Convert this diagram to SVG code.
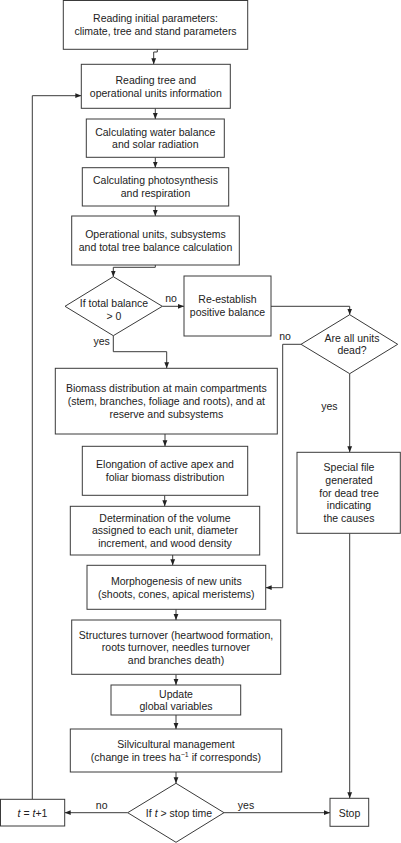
<svg xmlns="http://www.w3.org/2000/svg" width="401" height="843" viewBox="0 0 401 843">
<defs>
<style>
.b{fill:#fff;stroke:#3a3a3a;stroke-width:1}
.t{font-family:"Liberation Sans",Arial,sans-serif;font-size:10.5px;fill:#222;text-anchor:middle}
.l{font-family:"Liberation Sans",Arial,sans-serif;font-size:10.5px;fill:#222;text-anchor:middle}
.c{fill:none;stroke:#3a3a3a;stroke-width:1}
</style>
<marker id="ah" markerUnits="userSpaceOnUse" markerWidth="6" markerHeight="6" viewBox="0 0 6 6" refX="6" refY="3" orient="auto">
<path d="M0,0.6 L6,3 L0,5.4 Z" fill="#222"/>
</marker>
</defs>
<rect width="401" height="843" fill="#fff"/>
<g id="connectors">
<path class="c" d="M157.3,49.3 V52 H153.7 V64.3" marker-end="url(#ah)"/>
<path class="c" d="M155.3,108.3 V119" marker-end="url(#ah)"/>
<path class="c" d="M155.3,157.3 V167.7" marker-end="url(#ah)"/>
<path class="c" d="M155.3,206 V216" marker-end="url(#ah)"/>
<path class="c" d="M155.3,265 V267.3 H113.3 V276.7" marker-end="url(#ah)"/>
<path class="c" d="M162.3,306.3 H184" marker-end="url(#ah)"/>
<path class="c" d="M271,306.3 H349.7 V314.7" marker-end="url(#ah)"/>
<path class="c" d="M301,344.3 H282.7 V587.7 H265.7" marker-end="url(#ah)"/>
<path class="c" d="M349.7,373.7 V452.3" marker-end="url(#ah)"/>
<path class="c" d="M113.3,335.7 V351.7 H166.7 V368.3" marker-end="url(#ah)"/>
<path class="c" d="M165,434 V446.3" marker-end="url(#ah)"/>
<path class="c" d="M164.7,495.3 V506.3" marker-end="url(#ah)"/>
<path class="c" d="M172.7,555 V565.3" marker-end="url(#ah)"/>
<path class="c" d="M176,609.3 V620" marker-end="url(#ah)"/>
<path class="c" d="M176,674.3 V685" marker-end="url(#ah)"/>
<path class="c" d="M176,715 V729" marker-end="url(#ah)"/>
<path class="c" d="M176,772 V783.3" marker-end="url(#ah)"/>
<path class="c" d="M127.7,812.7 H64.7" marker-end="url(#ah)"/>
<path class="c" d="M224,812.7 H330" marker-end="url(#ah)"/>
<path class="c" d="M32.3,799.3 V95.7 H81.3" marker-end="url(#ah)"/>
<path class="c" d="M349.7,533.3 V798.3" marker-end="url(#ah)"/>
<text class="l" x="171" y="301.5">no</text>
<text class="l" x="285" y="340">no</text>
<text class="l" x="329.3" y="410">yes</text>
<text class="l" x="101.7" y="344.5">yes</text>
<text class="l" x="101.7" y="808.5">no</text>
<text class="l" x="246" y="808.5">yes</text>
</g>
<g id="n1">
<rect class="b" x="63.3" y="0.5" width="184.4" height="48.8"/>
<text class="t" x="155.5" y="22">Reading initial parameters:</text>
<text class="t" x="155.5" y="35">climate, tree and stand parameters</text>
</g>
<g id="n2">
<rect class="b" x="81.3" y="64.3" width="149" height="44"/>
<text class="t" x="155.8" y="84">Reading tree and</text>
<text class="t" x="155.8" y="97">operational units information</text>
</g>
<g id="n3">
<rect class="b" x="86.3" y="119" width="138" height="38.3"/>
<text class="t" x="155.3" y="135.5">Calculating water balance</text>
<text class="t" x="155.3" y="148">and solar radiation</text>
</g>
<g id="n4">
<rect class="b" x="82.3" y="167.7" width="146.4" height="38.3"/>
<text class="t" x="155.5" y="184">Calculating photosynthesis</text>
<text class="t" x="155.5" y="197">and respiration</text>
</g>
<g id="n5">
<rect class="b" x="71.7" y="216" width="167.6" height="49"/>
<text class="t" x="155.5" y="238">Operational units, subsystems</text>
<text class="t" x="155.5" y="251">and total tree balance calculation</text>
</g>
<g id="d1">
<polygon class="b" points="113.3,276.7 162.3,306.3 113.3,335.7 65,306.3"/>
<text class="t" x="114" y="307">If total balance</text>
<text class="t" x="114" y="320">&gt; 0</text>
</g>
<g id="n6">
<rect class="b" x="184" y="276" width="87" height="60"/>
<text class="t" x="227.5" y="303">Re-establish</text>
<text class="t" x="227.5" y="316">positive balance</text>
</g>
<g id="d2">
<polygon class="b" points="349.7,314.7 397.7,344.3 349.7,373.7 301,344.3"/>
<text class="t" x="352" y="342">Are all units</text>
<text class="t" x="352" y="354">dead?</text>
</g>
<g id="n7">
<rect class="b" x="55.3" y="368.3" width="222" height="65.7"/>
<text class="t" x="166.3" y="392">Biomass distribution at main compartments</text>
<text class="t" x="166.3" y="405">(stem, branches, foliage and roots), and at</text>
<text class="t" x="166.3" y="417.5">reserve and subsystems</text>
</g>
<g id="n8">
<rect class="b" x="82.3" y="446.3" width="165.4" height="49"/>
<text class="t" x="165" y="468">Elongation of active apex and</text>
<text class="t" x="165" y="481">foliar biomass distribution</text>
</g>
<g id="n9">
<rect class="b" x="70.3" y="506.3" width="189.4" height="48.7"/>
<text class="t" x="165" y="521.5">Determination of the volume</text>
<text class="t" x="165" y="534">assigned to each unit, diameter</text>
<text class="t" x="165" y="546.7">increment, and wood density</text>
</g>
<g id="n10">
<rect class="b" x="87" y="565.3" width="178.7" height="44"/>
<text class="t" x="176.3" y="585">Morphogenesis of new units</text>
<text class="t" x="176.3" y="597.5">(shoots, cones, apical meristems)</text>
</g>
<g id="n11">
<rect class="b" x="71.7" y="620" width="209" height="54.3"/>
<text class="t" x="176" y="638.5">Structures turnover (heartwood formation,</text>
<text class="t" x="176" y="651">roots turnover, needles turnover</text>
<text class="t" x="176" y="663.7">and branches death)</text>
</g>
<g id="n12">
<rect class="b" x="111" y="685" width="129.7" height="30"/>
<text class="t" x="176" y="697.5">Update</text>
<text class="t" x="176" y="710">global variables</text>
</g>
<g id="n13">
<rect class="b" x="70.3" y="729" width="211.4" height="43"/>
<text class="t" x="176" y="748">Silvicultural management</text>
<text class="t" x="176" y="761">(change in trees ha<tspan font-size="7" dy="-4">−1</tspan><tspan dy="4"> if corresponds)</tspan></text>
</g>
<g id="d3">
<polygon class="b" points="176,783.3 224,812.7 176,842.3 127.7,812.7"/>
<text class="t" x="179" y="816.5">If <tspan font-style="italic">t</tspan> &gt; stop time</text>
</g>
<g id="n14">
<rect class="b" x="0.5" y="799.3" width="64.2" height="26.7"/>
<text class="t" x="32.5" y="816.5"><tspan font-style="italic">t</tspan> = <tspan font-style="italic">t</tspan>+1</text>
</g>
<g id="n15">
<rect class="b" x="330" y="798.3" width="38.7" height="28"/>
<text class="t" x="349.5" y="816.5">Stop</text>
</g>
<g id="n16">
<rect class="b" x="297" y="452.3" width="103.3" height="81"/>
<text class="t" x="349" y="471">Special file</text>
<text class="t" x="349" y="483.5">generated</text>
<text class="t" x="349" y="496.5">for dead tree</text>
<text class="t" x="349" y="509">indicating</text>
<text class="t" x="349" y="522">the causes</text>
</g>
</svg>
